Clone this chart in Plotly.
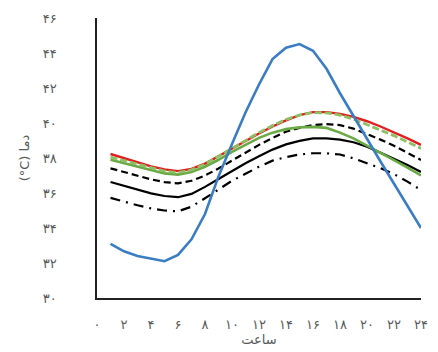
import plotly.graph_objects as go

# Hourly temperatures (°C), hours 1..24
hours = list(range(1, 25))

ambient = [33.09, 32.67, 32.40, 32.23, 32.10, 32.46, 33.35, 34.80, 36.95, 38.80,
           40.60, 42.20, 43.65, 44.30, 44.51, 44.13, 43.10, 41.70, 40.36, 39.10,
           37.80, 36.55, 35.28, 34.00]

red_series = [38.23, 38.00, 37.75, 37.52, 37.35, 37.25, 37.38, 37.68, 38.10, 38.55,
              38.98, 39.40, 39.80, 40.15, 40.45, 40.62, 40.62, 40.52, 40.35, 40.10,
              39.80, 39.48, 39.12, 38.75]

green_dashed = [38.05, 37.85, 37.62, 37.42, 37.25, 37.17, 37.32, 37.65, 38.10, 38.58,
                39.02, 39.45, 39.85, 40.20, 40.45, 40.60, 40.58, 40.45, 40.22, 39.92,
                39.60, 39.28, 38.92, 38.55]

green_solid = [37.90, 37.70, 37.48, 37.28, 37.12, 37.05, 37.20, 37.50, 37.90, 38.35,
               38.75, 39.15, 39.45, 39.65, 39.75, 39.78, 39.72, 39.45, 39.12, 38.72,
               38.30, 37.88, 37.45, 37.00]

black_dashed = [37.41, 37.20, 36.98, 36.78, 36.62, 36.55, 36.70, 37.00, 37.40, 37.85,
                38.30, 38.75, 39.15, 39.50, 39.72, 39.88, 39.94, 39.88, 39.68, 39.38,
                39.05, 38.70, 38.30, 37.89]

black_solid = [36.63, 36.40, 36.18, 35.98, 35.83, 35.76, 35.95, 36.35, 36.80, 37.25,
               37.70, 38.10, 38.48, 38.78, 38.98, 39.12, 39.12, 39.05, 38.90, 38.65,
               38.30, 37.95, 37.60, 37.20]

black_dashdot = [35.72, 35.50, 35.30, 35.12, 35.00, 34.95, 35.22, 35.70, 36.20, 36.70,
                 37.10, 37.50, 37.85, 38.05, 38.20, 38.27, 38.27, 38.20, 37.98, 37.72,
                 37.42, 37.08, 36.65, 36.17]

x_ticks = list(range(0, 25, 2))
x_labels = ["۰", "۲", "۴", "۶", "۸", "۱۰", "۱۲", "۱۴", "۱۶", "۱۸", "۲۰", "۲۲", "۲۴"]
y_ticks = list(range(30, 47, 2))
y_labels = ["۳۰", "۳۲", "۳۴", "۳۶", "۳۸", "۴۰", "۴۲", "۴۴", "۴۶"]

fig = go.Figure()

styles = [
    (black_solid, "#000000", 2.2, "solid"),
    (black_dashed, "#000000", 2.2, "7px,4px"),
    (black_dashdot, "#000000", 2.2, "10px,6px,2px,6px"),
    (green_solid, "#6aaa45", 2.6, "solid"),
    (red_series, "#e01f1f", 2.4, "solid"),
    (green_dashed, "#8cc063", 2.8, "7px,3px"),
    (ambient, "#3b7dc4", 2.6, "solid"),
]
for ys, color, width, dash in styles:
    fig.add_trace(go.Scatter(
        x=hours, y=ys, mode="lines",
        line=dict(color=color, width=width, dash=dash),
        showlegend=False, hoverinfo="skip",
    ))

tick_font = dict(family="DejaVu Sans", size=13, color="#595959")

fig.update_layout(
    width=438, height=352,
    margin=dict(l=97, r=10, t=18, b=54),
    paper_bgcolor="white", plot_bgcolor="white",
    xaxis=dict(
        range=[0, 24], tickvals=x_ticks, ticktext=x_labels,
        showgrid=False, zeroline=False, showline=True,
        linecolor="#222222", linewidth=1.5, ticks="",
        tickfont=tick_font, ticklabelstandoff=14,
        title=dict(text="ساعت", font=dict(family="DejaVu Sans", size=13, color="#595959"),
                   standoff=0),
    ),
    yaxis=dict(
        range=[30, 46], tickvals=y_ticks, ticktext=y_labels,
        showgrid=False, zeroline=False, showline=True,
        linecolor="#222222", linewidth=1.5, ticks="",
        tickfont=tick_font, ticklabelstandoff=36,
        title=dict(text="(°C) دما", font=dict(family="DejaVu Sans", size=13, color="#595959"),
                   standoff=10),
    ),
)

fig.write_html("out.html")
